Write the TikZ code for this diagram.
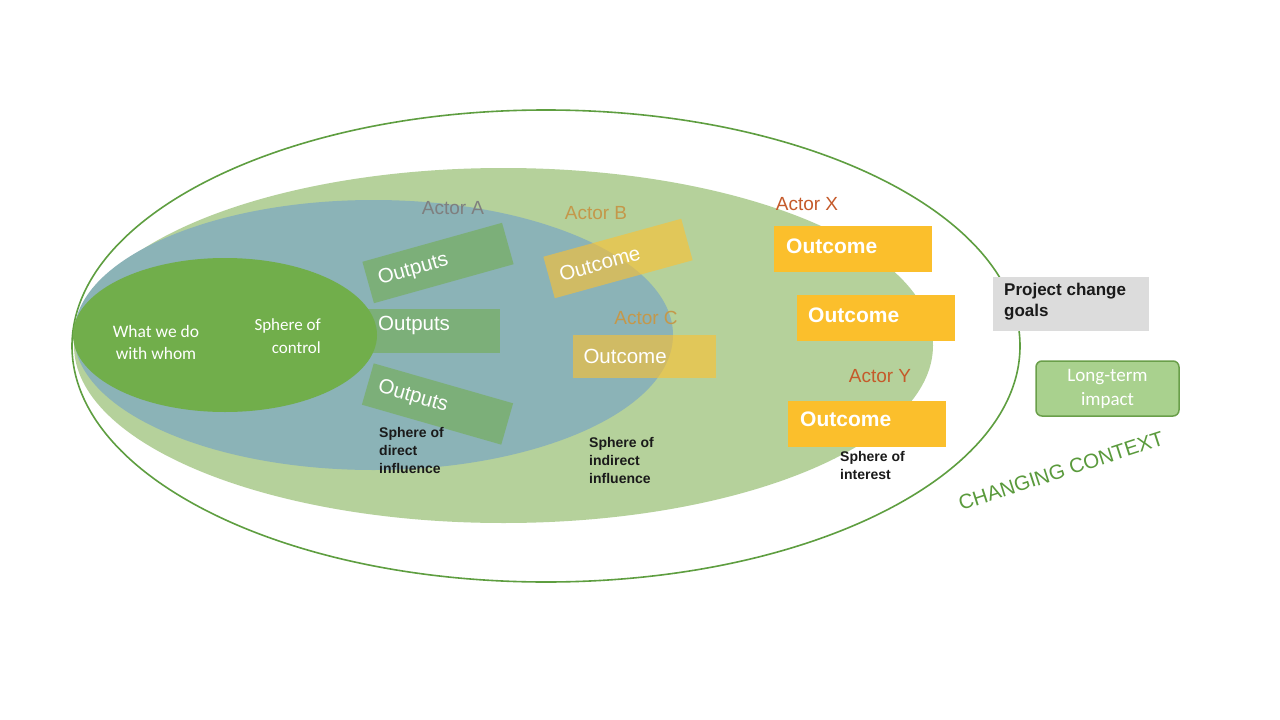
\documentclass[tikz,border=0pt]{standalone}
\usepackage{fontspec}
\setmainfont{Liberation Sans}
\newfontfamily\calib{Carlito}
\definecolor{ringgreen}{HTML}{5E9E40}
\definecolor{lightgreen}{HTML}{B5D19B}
\definecolor{bluegrey}{HTML}{8BB3B7}
\definecolor{darkgreen}{HTML}{71AE4B}
\definecolor{outgreen}{HTML}{70AD47}
\definecolor{outyellow}{HTML}{FFC12E}
\definecolor{solidyellow}{HTML}{FBBF2C}
\definecolor{greybox}{HTML}{DCDCDC}
\definecolor{ltgreen}{HTML}{A9D18E}
\definecolor{ltborder}{HTML}{6A9F4A}
\definecolor{actorgrey}{HTML}{7F7F7F}
\definecolor{actorgold}{HTML}{C4984A}
\definecolor{actorred}{HTML}{C55A2A}
\definecolor{ctxgreen}{HTML}{5A9A3C}
\definecolor{darktext}{HTML}{1A1A1A}
\begin{document}
\begin{tikzpicture}[x=1pt,y=-1pt,
  outbox/.style={fill=outgreen, fill opacity=0.55, text opacity=1, text=white,
    minimum height=43pt, text width=123pt, inner xsep=11pt, inner ysep=0pt, align=left,
    font=\fontsize{20.5}{24}\selectfont},
  tbox/.style={fill=outyellow, fill opacity=0.6, text opacity=1, text=white,
    minimum height=43pt, text width=121pt, inner xsep=11pt, inner ysep=0pt, align=left,
    font=\fontsize{20.5}{24}\selectfont},
  sbox/.style={fill=solidyellow, minimum width=158pt, minimum height=46pt, inner sep=0pt},
  sboxtext/.style={anchor=west, text=white, inner sep=0pt, font=\bfseries\fontsize{21}{24}\selectfont},
  actor/.style={font=\fontsize{19}{22}\selectfont, inner sep=0pt},
  sphere/.style={font=\bfseries\fontsize{14}{18}\selectfont, text=darktext, align=left,
    inner sep=0pt, anchor=north west}
]
\useasboundingbox (0,0) rectangle (1280,720);
\fill[white] (0,0) rectangle (1280,720);

% ellipses
\fill[lightgreen] (503.5,345.5) ellipse [x radius=429.5pt, y radius=177.5pt];
\fill[bluegrey] (373.5,335) ellipse [x radius=299.5pt, y radius=135pt];
\draw[ringgreen, line width=1.6pt] (546,346) ellipse [x radius=474pt, y radius=236pt];

% outputs boxes
\node[outbox, rotate=15.6] (out1) at (438,263) {Outputs};
\node[fill=outgreen, fill opacity=0.55, minimum width=138pt, minimum height=44pt, inner sep=0pt] (out2) at (431,330.5) {};
\node[outbox, rotate=-16] (out3) at (437.5,404) {Outputs};

\fill[darkgreen] (225,335) ellipse [x radius=152pt, y radius=77pt];
\node[anchor=west, text=white, inner sep=0pt, font=\fontsize{20.5}{24}\selectfont] (out2t) at (378,325) {Outputs};

% transparent outcomes
\node[tbox, rotate=15.4] (ocB) at (618,258.5) {Outcome};
\node[tbox] (ocC) at (644,356) {Outcome};

% solid outcomes
\node[sbox] (ocX) at (853,249) {};
\node[sboxtext] (ocXt) at (786,246) {Outcome};
\node[sbox] (ocX2) at (875.5,318) {};
\node[sboxtext] (ocX2t) at (808,315) {Outcome};
\node[sbox] (ocY) at (867,423.5) {};
\node[sboxtext] (ocYt) at (800,419) {Outcome};

% actor labels
\node[actor, text=actorgrey] (actA) at (453,208) {Actor A};
\node[actor, text=actorgold] (actB) at (596,213) {Actor B};
\node[actor, text=actorgold] (actC) at (646,318) {Actor C};
\node[actor, text=actorred] (actX) at (807,204) {Actor X};
\node[actor, text=actorred] (actY) at (880,376) {Actor Y};

% inner texts
\node[text=white, align=center, font=\calib\fontsize{17.5}{22}\selectfont, inner sep=0pt] (what) at (156,342) {What we do\\with whom};
\node[text=white, align=right, font=\calib\fontsize{17}{23}\selectfont, inner sep=0pt, anchor=east] (ctrl) at (321,336) {Sphere of\\control};

\node[sphere] (sdi) at (379,427) {Sphere of\\direct\\influence};
\node[sphere] (sii) at (589,437) {Sphere of\\indirect\\influence};
\node[sphere] (sint) at (840,451) {Sphere of\\interest};

% right side
\node[fill=greybox, minimum width=156pt, minimum height=54pt, inner sep=0pt] (goalsbox) at (1071,304) {};
\node[anchor=west, align=left, text=darktext, inner sep=0pt, font=\bfseries\fontsize{17}{21}\selectfont] (goals) at (1004,302) {Project change\\goals};

\node[fill=ltgreen, draw=ltborder, line width=1.5pt, rounded corners=6pt, minimum width=143pt, minimum height=55pt,
  text=white, align=center, font=\calib\fontsize{19}{24}\selectfont, inner sep=0pt] (impact) at (1107.5,388.5) {Long-term\\impact};

\node[text=ctxgreen, rotate=18, font=\fontsize{20.5}{24}\selectfont, inner sep=0pt] (ctx) at (1061,471) {CHANGING CONTEXT};
\end{tikzpicture}
\end{document}
